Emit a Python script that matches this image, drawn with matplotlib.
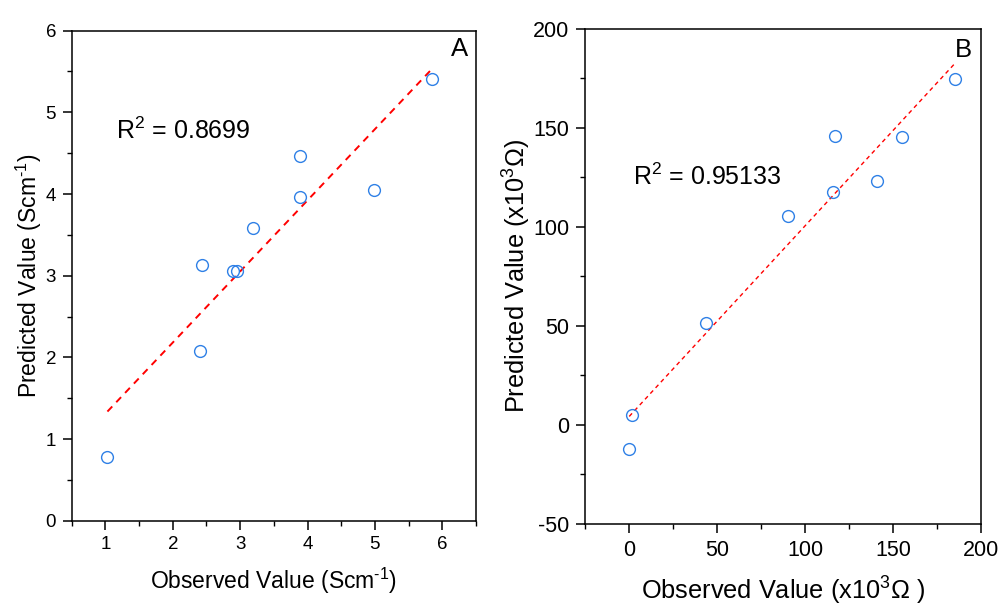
import matplotlib
matplotlib.use("Agg")
import matplotlib.pyplot as plt
import numpy as np
from matplotlib.ticker import MultipleLocator

plt.rcParams["font.family"] = ["Liberation Sans", "DejaVu Sans"]
plt.rcParams["mathtext.fontset"] = "custom"
plt.rcParams["mathtext.rm"] = "Liberation Sans"
plt.rcParams["mathtext.it"] = "Liberation Sans:italic"
plt.rcParams["mathtext.bf"] = "Liberation Sans:bold"
plt.rcParams["axes.unicode_minus"] = False

# Panel A: conductivity (S cm^-1)
obs_a = [1.03, 2.40, 2.44, 2.89, 2.95, 3.19, 3.89, 3.89, 4.99, 5.84]
pred_a = [0.78, 2.08, 3.13, 3.06, 3.06, 3.58, 3.96, 4.47, 4.05, 5.41]
r2_a = "0.8699"

# Panel B: resistance (x10^3 Ohm)
obs_b = [185.2, 117.1, 155.0, 140.8, 115.8, 90.5, 43.8, 1.7, 0.0]
pred_b = [174.4, 145.8, 145.5, 123.1, 117.5, 105.4, 51.5, 5.1, -11.9]
r2_b = "0.95133"

MARKER_COLOR = "#2f80e6"


def style_axes(ax, tick_size):
    for sp in ax.spines.values():
        sp.set_linewidth(1.1)
    ax.tick_params(which="major", direction="out", length=6.3, width=1.1, pad=5,
                   labelsize=tick_size, top=False, right=False)
    ax.tick_params(which="minor", direction="out", length=3.6, width=1.0,
                   top=False, right=False)


def scatter_with_fit(ax, x, y, ls, lw):
    ax.plot(x, y, linestyle="none", marker="o", markersize=8.5,
            markerfacecolor="none", markeredgecolor=MARKER_COLOR, markeredgewidth=1.0,
            zorder=3)
    k, b = np.polyfit(x, y, 1)
    xs = np.array([min(x), max(x)])
    ax.plot(xs, k * xs + b, color="red", linestyle=ls, linewidth=lw, zorder=2)


fig = plt.figure(figsize=(10.03, 6.06), dpi=100)

# --- A ---
ax1 = fig.add_axes([0.0715, 0.1408, 0.4031, 0.8086])
scatter_with_fit(ax1, obs_a, pred_a, (0, (3.6, 3.0)), 1.4)
ax1.set_xlim(0.5, 6.5)
ax1.set_ylim(0, 6)
ax1.xaxis.set_major_locator(MultipleLocator(1))
ax1.xaxis.set_minor_locator(MultipleLocator(0.5))
ax1.yaxis.set_major_locator(MultipleLocator(1))
ax1.yaxis.set_minor_locator(MultipleLocator(0.5))
style_axes(ax1, 13.5)
ax1.set_xticks([1, 2, 3, 4, 5, 6])
ax1.set_xlabel(r"Observed Value (Scm$^{\text{-1}}$)", fontsize=16.5, labelpad=9)
ax1.set_ylabel(r"Predicted Value (Scm$^{\text{-1}}$)", fontsize=16.5, labelpad=1)
ax1.text(1.16, 4.77, "R$^2$ = " + r2_a, fontsize=18, va="center", ha="left")
ax1.text(0.980, 0.962, "A", transform=ax1.transAxes, fontsize=18.5,
         ha="right", va="center")

# --- B ---
ax2 = fig.add_axes([0.5835, 0.1353, 0.3945, 0.8173])
scatter_with_fit(ax2, obs_b, pred_b, (0, (3.0, 2.6)), 1.0)
ax2.set_xlim(-25, 200)
ax2.set_ylim(-50, 200)
ax2.xaxis.set_major_locator(MultipleLocator(50))
ax2.xaxis.set_minor_locator(MultipleLocator(25))
ax2.yaxis.set_major_locator(MultipleLocator(50))
ax2.yaxis.set_minor_locator(MultipleLocator(25))
style_axes(ax2, 15.5)
ax2.set_xticks([0, 50, 100, 150, 200])
ax2.set_xlabel("Observed Value (x10$^3$Ω )", fontsize=18.3, labelpad=10)
ax2.set_ylabel("Predicted Value (x10$^3$Ω)", fontsize=18.3, labelpad=0)
ax2.text(2.3, 125.3, "R$^2$ = " + r2_b, fontsize=18, va="center", ha="left")
ax2.text(0.9765, 0.958, "B", transform=ax2.transAxes, fontsize=18.5,
         ha="right", va="center")

fig.savefig("out.png", dpi=100)
